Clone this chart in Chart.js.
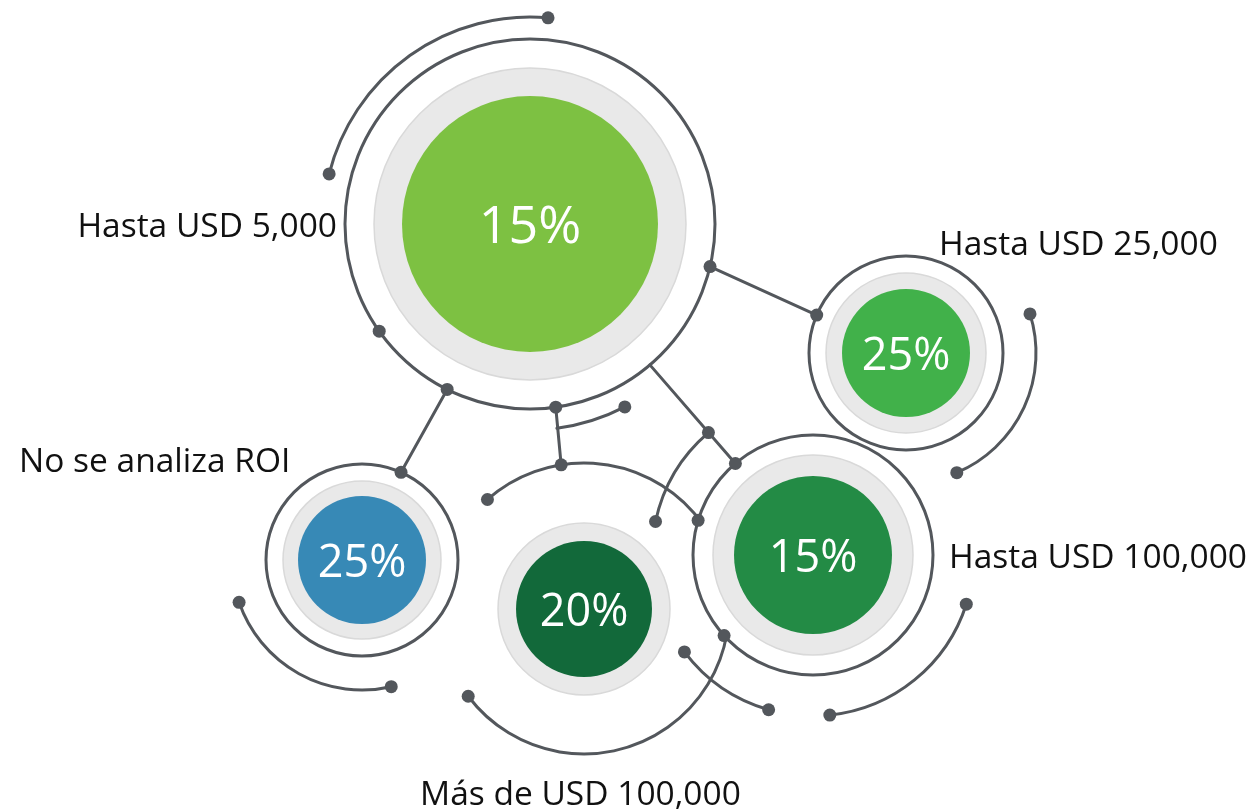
<!DOCTYPE html>
<html>
<head>
<meta charset="utf-8">
<script src="https://cdn.jsdelivr.net/npm/chart.js@4/dist/chart.umd.min.js"></script>
<style>
  html, body { margin:0; padding:0; background:#fff; }
  #wrap { width:1258px; height:812px; position:relative; }
</style>
</head>
<body>
<div id="wrap"><canvas id="roi-chart"></canvas></div>
<script>
'use strict';

// ── Data ──────────────────────────────────────────────────────────────────────
const categories = ['Hasta USD 5,000', 'Hasta USD 25,000', 'Hasta USD 100,000', 'Más de USD 100,000', 'No se analiza ROI'];
const shares     = [15, 25, 15, 20, 25];
const centerX    = [530, 906, 813, 584, 362];
const centerY    = [224, 353, 555, 609, 560];
const bubbleR    = [128, 64, 79, 68, 64];

// ── Layout / style ────────────────────────────────────────────────────────────
const fills    = ['#7DC142', '#41B14A', '#238B45', '#12693A', '#3789B6'];
const grayR    = [156, 80, 100, 86, 79];
const ringR    = [185, 97, 120, null, 96];
const pctFont  = [52, 45, 45, 45, 45];
const labelX   = [337, 939, 949, 420, 19];
const labelY   = [237, 255, 568, 805, 472];
const labelAlign = ['right', 'left', 'left', 'left', 'left'];

// decorative arcs: [circle, radius, startDeg, endDeg]
const arcs = [
  [0, 207, 194, 275], [0, 206, 62.6, 82.5],
  [1, 130, -17.5, 67],
  [2, 161, 192, 229.5], [2, 161, 17.8, 84], [2, 161, 106, 143],
  [3, 146, 228.6, 322.6], [3, 145, 9.7, 143],
  [4, 130, 77, 161]
];
// connector lines: [[circle, radius, deg], [circle, radius, deg]]
const links = [
  [[0, 185, 13.3], [1, 97, 203]],
  [[0, 185, 116.6], [4, 96, 294]],
  [[0, 185, 82], [3, 146, 261]],
  [[0, 185, 49.6], [2, 120, 229.7]]
];
// dots: [circle, radius, deg]
const dots = [
  [0, 207, 194], [0, 207, 275], [0, 206, 62.6],
  [0, 185, 13.3], [0, 185, 82], [0, 185, 116.6], [0, 185, 144.6],
  [1, 130, -17.5], [1, 130, 67], [1, 97, 203],
  [2, 161, 192], [2, 161, 229.5], [2, 161, 17.8], [2, 161, 84], [2, 161, 106], [2, 161, 143],
  [2, 120, 229.7], [2, 120, 196.8], [2, 120, 137.8],
  [3, 146, 228.6], [3, 146, 261], [3, 145, 143],
  [4, 130, 77], [4, 130, 161], [4, 96, 294]
];

const LINE = '#53575C';
const rad = d => d * Math.PI / 180;

const decoPlugin = {
  id: 'deco',
  beforeDatasetsDraw(chart) {
    const { ctx, scales: { x, y } } = chart;
    const k = Math.abs(x.getPixelForValue(1) - x.getPixelForValue(0));
    const cx = i => x.getPixelForValue(centerX[i]);
    const cy = i => y.getPixelForValue(centerY[i]);
    const pt = ([c, r, a]) => [x.getPixelForValue(centerX[c] + r * Math.cos(rad(a))),
                               y.getPixelForValue(centerY[c] + r * Math.sin(rad(a)))];
    ctx.save();
    // gray halo discs
    centerX.forEach((_, i) => {
      ctx.beginPath();
      ctx.arc(cx(i), cy(i), grayR[i] * k, 0, Math.PI * 2);
      ctx.fillStyle = '#E9E9E9'; ctx.fill();
      ctx.lineWidth = 1.5; ctx.strokeStyle = '#D9D9D9'; ctx.stroke();
    });
    ctx.strokeStyle = LINE; ctx.lineWidth = 3; ctx.lineCap = 'round';
    // outer rings
    centerX.forEach((_, i) => {
      if (!ringR[i]) return;
      ctx.beginPath();
      ctx.arc(cx(i), cy(i), ringR[i] * k, 0, Math.PI * 2);
      ctx.stroke();
    });
    // arcs
    arcs.forEach(([c, r, a0, a1]) => {
      ctx.beginPath();
      ctx.arc(cx(c), cy(c), r * k, rad(a0), rad(a1));
      ctx.stroke();
    });
    // connectors
    links.forEach(([p, q]) => {
      const a = pt(p), b = pt(q);
      ctx.beginPath(); ctx.moveTo(a[0], a[1]); ctx.lineTo(b[0], b[1]); ctx.stroke();
    });
    // dots
    ctx.fillStyle = LINE;
    dots.forEach(d => {
      const p = pt(d);
      ctx.beginPath(); ctx.arc(p[0], p[1], 6.5, 0, Math.PI * 2); ctx.fill();
    });
    ctx.restore();
  },
  afterDatasetsDraw(chart) {
    const { ctx, scales: { x, y } } = chart;
    ctx.save();
    shares.forEach((v, i) => {
      const fs = pctFont[i];
      ctx.font = `400 ${fs}px "Open Sans", "Noto Sans", sans-serif`;
      ctx.fillStyle = '#fff'; ctx.textAlign = 'center'; ctx.textBaseline = 'alphabetic';
      ctx.fillText(v + '%', x.getPixelForValue(centerX[i]), y.getPixelForValue(centerY[i]) + fs * 0.37);
    });
    categories.forEach((c, i) => {
      ctx.font = '500 33.5px "Open Sans", "Noto Sans", sans-serif';
      ctx.fillStyle = '#111'; ctx.textAlign = labelAlign[i]; ctx.textBaseline = 'alphabetic';
      ctx.fillText(c, x.getPixelForValue(labelX[i]), y.getPixelForValue(labelY[i]));
    });
    ctx.restore();
  }
};

new Chart(document.getElementById('roi-chart'), {
  type: 'bubble',
  data: {
    labels: categories,
    datasets: [{
      data: categories.map((_, i) => ({ x: centerX[i], y: centerY[i], r: bubbleR[i] })),
      backgroundColor: fills, hoverBackgroundColor: fills,
      borderWidth: 0, hoverBorderWidth: 0, hoverRadius: 0
    }]
  },
  options: {
    responsive: true, maintainAspectRatio: false, animation: false,
    layout: { padding: 0, autoPadding: false },
    events: [],
    plugins: { legend: { display: false }, tooltip: { enabled: false } },
    scales: {
      x: { type: 'linear', min: 0, max: 1258, display: false },
      y: { type: 'linear', min: 0, max: 812, reverse: true, display: false }
    }
  },
  plugins: [decoPlugin]
});
</script>
</body>
</html>
